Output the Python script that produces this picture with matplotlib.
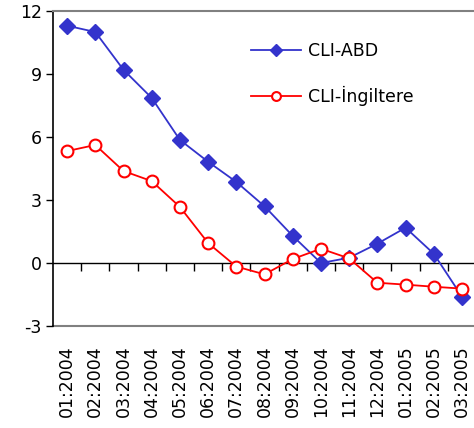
import matplotlib
matplotlib.use("Agg")
import matplotlib.pyplot as plt
import numpy as np

months = ["01:2004", "02:2004", "03:2004", "04:2004", "05:2004", "06:2004",
          "07:2004", "08:2004", "09:2004", "10:2004", "11:2004", "12:2004",
          "01:2005", "02:2005", "03:2005"]
cli_abd = [11.3, 11.0, 9.2, 7.86, 5.86, 4.82, 3.86, 2.7, 1.29, 0.0,
           0.25, 0.92, 1.68, 0.44, -1.6]
cli_ing = [5.33, 5.62, 4.38, 3.9, 2.67, 0.95, -0.17, -0.54, 0.19, 0.68,
           0.22, -0.94, -1.03, -1.13, -1.22]

blue = "#3333cc"
red = "#ff0000"
grey = "#808080"

plt.rcParams['font.family'] = ['DejaVu Sans']
plt.rcParams['axes.unicode_minus'] = False

fig = plt.figure(figsize=(4.74, 4.28), dpi=100)
ax = fig.add_axes([0.1118, 0.2383, 0.8926, 0.736])

x = np.arange(len(months))
ax.plot(x, cli_abd, color=blue, lw=1.3, marker="D", ms=8,
        mfc=blue, mec=blue, label="CLI-ABD", clip_on=False, zorder=3)
ax.plot(x, cli_ing, color=red, lw=1.3, marker="o", ms=8.5,
        mfc="white", mec=red, mew=1.5, label="CLI-İngiltere", clip_on=False, zorder=4)

ax.set_xlim(-0.5, len(months) - 0.5)
ax.set_ylim(-3, 12)
ax.set_yticks([-3, 0, 3, 6, 9, 12])
ax.tick_params(axis="y", length=5, width=1, pad=3, labelsize=12.5, colors="black")

# category axis crosses at zero
ax.spines["bottom"].set_position(("data", 0))
ax.spines["bottom"].set_color("black")
ax.spines["bottom"].set_linewidth(1)
ax.set_xticks(x)
ax.set_xticks(np.arange(len(months) - 1) + 0.5, minor=True)
ax.tick_params(axis="x", which="major", length=0, labelbottom=False)
ax.tick_params(axis="x", which="minor", length=6, width=1, direction="out")

ax.spines["left"].set_color("black")
ax.spines["left"].set_linewidth(1.2)
ax.spines["top"].set_color(grey)
ax.spines["top"].set_linewidth(1.5)
ax.spines["right"].set_color(grey)

# labels and grey frame at the bottom of the plot area
sec = ax.secondary_xaxis(0)
sec.set_xticks(x)
sec.set_xticklabels(months, rotation=90, fontsize=12.5)
sec.tick_params(length=0, pad=14)
sec.spines["bottom"].set_color(grey)
sec.spines["bottom"].set_linewidth(1.5)

leg = ax.legend(loc="upper left", bbox_to_anchor=(0.43, 0.95),
                frameon=False, fontsize=12.5, handlelength=2.9,
                labelspacing=1.5, markerscale=0.75, handletextpad=0.4)

fig.savefig("out.png", dpi=100)
